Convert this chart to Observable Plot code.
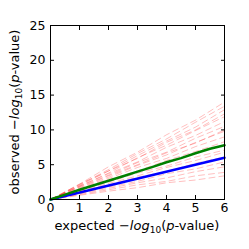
<!DOCTYPE html>
<html><head><meta charset="utf-8">
<script src="https://cdn.jsdelivr.net/npm/d3@7"></script>
<script src="https://cdn.jsdelivr.net/npm/@observablehq/plot@0.6"></script>
<style>html,body{margin:0;padding:0;background:#fff} svg{display:block}</style>
</head><body><div id="c"></div>
<script>
const xTicks = [0,1,2,3,4,5,6];
const yTicks = [0,5,10,15,20,25];
const redX = [0,1,2,3,4,5,6];
const red01 = [0,2.2,4.7,6.8,9.3,11.4,14.0];
const red02 = [0,2.1,4.3,6.6,8.7,11.1,13.4];
const red03 = [0,2.2,4.1,6.3,8.4,10.4,12.9];
const red04 = [0,2.0,4.1,5.9,8.2,10.0,12.3];
const red05 = [0,1.9,3.8,6.0,7.8,9.9,11.9];
const red06 = [0,1.9,3.7,5.4,7.5,9.2,11.2];
const red07 = [0,1.8,3.5,5.3,6.8,8.8,10.5];
const red08 = [0,1.7,3.4,5.0,6.7,8.1,10.0];
const red09 = [0,1.6,3.2,4.9,6.4,8.2,9.8];
const red10 = [0,1.5,3.0,4.6,5.9,7.6,9.0];
const red11 = [0,1.4,2.8,4.1,5.6,6.9,8.3];
const red12 = [0,1.3,2.5,3.8,4.8,6.1,7.1];
const red13 = [0,1.2,2.3,3.4,4.6,5.6,6.8];
const red14 = [0,1.1,2.1,3.2,4.0,5.2,6.1];
const red15 = [0,0.9,1.8,2.6,3.7,4.4,5.4];
const red16 = [0,0.8,1.6,2.4,3.1,4.0,4.7];
const red17 = [0,0.7,1.4,2.1,2.6,3.4,3.9];
const red18 = [0,0.6,1.2,1.7,2.4,2.8,3.4];
const redSeries = [red01,red02,red03,red04,red05,red06,red07,red08,red09,red10,red11,red12,red13,red14,red15,red16,red17,red18];
const meanX = [0,0.5,1,1.5,2,2.5,3,3.5,4,4.5,5,5.5,6];
const meanY = [0,0.7,1.4,2.05,2.7,3.35,4.0,4.65,5.35,5.95,6.65,7.3,7.8];
const nullX = [0,6];
const nullY = [0,6];

const marks = [];
for (const s of redSeries) {
  marks.push(Plot.line(redX.map((x,i)=>({x, y:s[i]})), {x:"x", y:"y", stroke:"red", strokeOpacity:0.25, strokeWidth:1, strokeDasharray:"6,4"}));
}
marks.push(Plot.line(nullX.map((x,i)=>({x, y:nullY[i]})), {x:"x", y:"y", stroke:"#0000ff", strokeWidth:2.5}));
marks.push(Plot.line(meanX.map((x,i)=>({x, y:meanY[i]})), {x:"x", y:"y", stroke:"#008000", strokeWidth:2.5}));
marks.push(Plot.frame({stroke:"black", strokeWidth:1}));
marks.push(Plot.axisX({ticks:xTicks, tickSize:-4, tickPadding:8, tickFormat:d3.format("d"), label:null}));
marks.push(Plot.axisX({anchor:"top", ticks:xTicks, tickSize:-4, tickFormat:()=>"", label:null}));
marks.push(Plot.axisY({ticks:yTicks, tickSize:-4, tickPadding:9, tickFormat:d3.format("d"), label:null}));
marks.push(Plot.axisY({anchor:"right", ticks:yTicks, tickSize:-4, tickFormat:()=>"", label:null}));

const chart = Plot.plot({
  width:249, height:249,
  marginLeft:50, marginRight:25, marginTop:25, marginBottom:50,
  style:{fontFamily:"DejaVu Sans", fontSize:"12.5px", background:"white", color:"black"},
  x:{domain:[0,6]},
  y:{domain:[0,25]},
  marks
});
document.getElementById("c").appendChild(chart);

const svg = d3.select(chart);
function addLabel(sel, first) {
  sel.append("tspan").text(first);
  sel.append("tspan").text("\u2212");
  sel.append("tspan").attr("font-style","italic").text("log");
  sel.append("tspan").attr("font-size","9px").attr("dy","3").text("10");
  sel.append("tspan").attr("dy","-3").text("(");
  sel.append("tspan").attr("font-style","italic").text("p");
  sel.append("tspan").text("-value)");
}
const xl = svg.append("text").attr("x",137).attr("y",230).attr("text-anchor","middle")
  .attr("font-family","DejaVu Sans").attr("font-size","13px").attr("fill","black");
addLabel(xl, "expected ");
const yl = svg.append("text").attr("transform","translate(19,112) rotate(-90)").attr("text-anchor","middle")
  .attr("font-family","DejaVu Sans").attr("font-size","13px").attr("fill","black");
addLabel(yl, "observed ");
</script>
</body></html>
